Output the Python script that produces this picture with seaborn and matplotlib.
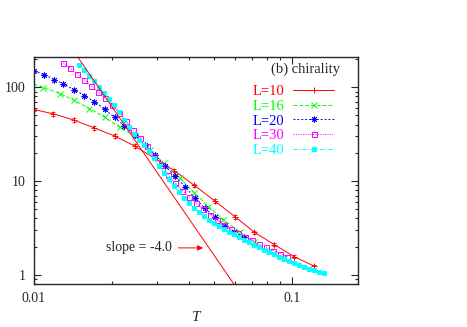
import matplotlib
matplotlib.use("Agg")
import matplotlib.pyplot as plt
import seaborn as sns
import numpy as np
from matplotlib.ticker import LogLocator, NullFormatter, FuncFormatter

# chirality susceptibility vs temperature
T_10 = [0.0100, 0.0119, 0.0143, 0.0171, 0.0206, 0.0246, 0.0294, 0.0350,
        0.0418, 0.0502, 0.0601, 0.0714, 0.0854, 0.1015, 0.1217]
chi_10 = [57.9, 52.0, 44.6, 36.9, 30.1, 23.6, 17.4, 12.9,
          9.0, 6.13, 4.17, 2.85, 2.10, 1.57, 1.24]
err_10 = [2.5, 2.2, 1.9, 1.6, 1.3, 1.0, 0.75, 0.55,
          0.38, 0.26, 0.18, 0.12, 0.09, 0.07, 0.05]

T_16 = [0.0095, 0.01087, 0.01261, 0.01429, 0.01638, 0.01879, 0.02154, 0.02464,
        0.02817, 0.0319, 0.03682, 0.04181, 0.04738, 0.05417, 0.06285, 0.07143,
        0.08166, 0.09311]
chi_16 = [113.0, 99.3, 85.7, 72.7, 59.3, 47.9, 37.3, 30.1,
          21.6, 15.4, 10.7, 7.51, 5.35, 3.89, 2.85, 2.23,
          1.80, 1.50]

T_20 = [0.0100, 0.01096, 0.01199, 0.01299, 0.01429, 0.01567, 0.01713, 0.01876,
        0.02051, 0.02239, 0.02457, 0.02693, 0.02944, 0.03219, 0.0352, 0.03848,
        0.04189, 0.0458, 0.05007, 0.05475, 0.05961, 0.06516]
chi_20 = [149.0, 136.5, 120.8, 108.9, 94.0, 81.6, 70.4, 58.3,
          47.7, 38.8, 31.2, 24.5, 18.9, 14.6, 11.2, 8.70,
          6.67, 5.19, 4.14, 3.36, 2.89, 2.51]

T_30 = [0.01299, 0.01383, 0.01472, 0.01567, 0.01668, 0.01775, 0.0189, 0.02012,
        0.02141, 0.0228, 0.02427, 0.02583, 0.0275, 0.02927, 0.03116, 0.03317,
        0.0353, 0.03758, 0.04, 0.04258, 0.04533, 0.04825, 0.05136, 0.05468,
        0.0582, 0.06195, 0.06595, 0.0702, 0.07473, 0.07955, 0.08468, 0.09014,
        0.09595]
chi_30 = [181.4, 159.3, 139.9, 120.2, 103.7, 89.6, 76.4, 64.4,
          53.5, 43.5, 35.3, 29.0, 23.6, 18.7, 14.8, 11.7,
          9.52, 7.92, 6.71, 5.79, 5.04, 4.38, 3.85, 3.40,
          3.06, 2.78, 2.54, 2.33, 2.14, 1.97, 1.82, 1.69,
          1.57]

T_40 = [0.01494, 0.01562, 0.01634, 0.01708, 0.01786, 0.01868, 0.01953, 0.02042,
        0.02135, 0.02232, 0.02334, 0.02441, 0.02552, 0.02669, 0.0279, 0.02918,
        0.03051, 0.0319, 0.03336, 0.03488, 0.03647, 0.03813, 0.03987, 0.04169,
        0.0436, 0.04559, 0.04767, 0.04984, 0.05211, 0.05449, 0.05698, 0.05958,
        0.0623, 0.06514, 0.06811, 0.07122, 0.07447, 0.07787, 0.08142, 0.08514,
        0.08902, 0.09309, 0.09733, 0.1018, 0.1064, 0.1113, 0.1164, 0.1217,
        0.1272, 0.1330]
chi_40 = [171.4, 151.7, 133.2, 115.8, 100.7, 87.0, 75.1, 64.7,
          55.1, 45.1, 37.8, 31.6, 27.4, 24.2, 20.9, 17.6,
          14.6, 12.3, 10.4, 8.89, 7.68, 6.66, 5.86, 5.19,
          4.65, 4.20, 3.85, 3.55, 3.30, 3.09, 2.88, 2.70,
          2.52, 2.37, 2.23, 2.10, 1.976, 1.863, 1.757, 1.661,
          1.569, 1.487, 1.409, 1.342, 1.277, 1.222, 1.170, 1.122,
          1.079, 1.040]

slope_amp = 1.0e-5
slope_pow = -4.0
slope_T = np.array([0.0095, 0.07])

sns.set_style("ticks")
plt.rcParams["font.family"] = ["Liberation Serif", "DejaVu Serif"]
plt.rcParams["font.size"] = 10

fig = plt.figure(figsize=(4.67, 3.27), dpi=100)
ax = fig.add_axes([0.0728, 0.1315, 0.6938, 0.6942])

series = [
    ("L=10", T_10, chi_10, "#ff0000", "+", "-", "#ff0000", 4.5),
    ("L=16", T_16, chi_16, "#00ff00", "x", (0, (4, 2)), "#00ff00", 4.0),
    ("L=20", T_20, chi_20, "#0000ff", (8, 2, 0), (0, (2, 2)), "#0000ff", 4.2),
    ("L=30", T_30, chi_30, "#ff00ff", "s", (0, (1, 1.5)), "none", 3.6),
    ("L=40", T_40, chi_40, "#00ffff", "s", (0, (4, 2, 1, 2)), "#00ffff", 3.3),
]

ax.errorbar(T_10, chi_10, yerr=err_10, fmt="none", ecolor="#ff0000",
            elinewidth=0.6, capsize=1.5, capthick=0.6)

for label, T, chi, color, marker, ls, face, ms in series:
    sns.lineplot(x=T, y=chi, ax=ax, color=color, marker=marker, linestyle=ls,
                 lw=0.7, markersize=ms, markeredgecolor=color,
                 markerfacecolor=face, markeredgewidth=0.7,
                 label=label, sort=False, estimator=None)

ax.plot(slope_T, slope_amp * slope_T ** slope_pow, color="#ff0000", lw=0.7)

ax.annotate("slope = -4.0", xy=(0.0452, 1.94), xytext=(0.0343, 1.94),
            ha="right", va="center", fontsize=10,
            arrowprops=dict(arrowstyle="-|>", color="#ff0000", lw=0.7,
                            mutation_scale=8, shrinkA=2, shrinkB=0))

ax.set_xscale("log")
ax.set_yscale("log")
ax.set_xlim(0.01, 0.18)
ax.set_ylim(0.8, 210)

fmt = FuncFormatter(lambda v, _: f"{v:g}")
for axis in (ax.xaxis, ax.yaxis):
    axis.set_major_locator(LogLocator(base=10))
    axis.set_minor_locator(LogLocator(base=10, subs=np.arange(2, 10)))
    axis.set_major_formatter(fmt)
    axis.set_minor_formatter(NullFormatter())
ax.tick_params(which="both", direction="in", top=True, right=True,
               labelsize=10, width=0.8)
ax.tick_params(which="major", length=5, pad=6)
ax.tick_params(which="minor", length=2.5)
for sp in ax.spines.values():
    sp.set_linewidth(1.0)

ax.set_xlabel("T", fontstyle="italic", fontsize=11, labelpad=4)
ax.set_ylabel("")

ax.text(0.944, 0.947, "(b) chirality", transform=ax.transAxes,
        ha="right", va="center", fontsize=10.5)

leg = ax.legend(loc="upper right", bbox_to_anchor=(334 / 467, 1 - 85 / 327),
                bbox_transform=fig.transFigure, frameon=False, markerfirst=False,
                labelcolor="linecolor", handlelength=2.8, handletextpad=0.6,
                fontsize=10.5, labelspacing=0.1, borderpad=0, borderaxespad=0)

fig.savefig("out.png", dpi=100)
